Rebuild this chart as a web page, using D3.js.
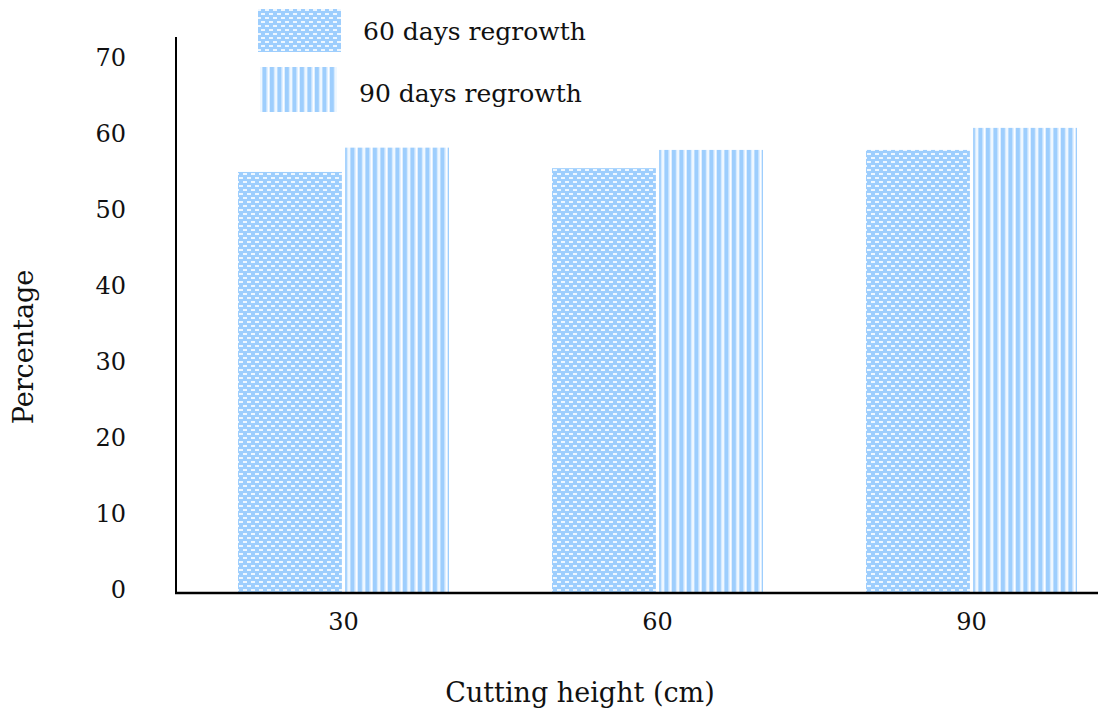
<!DOCTYPE html>
<html>
<head>
<meta charset="utf-8">
<script src="https://cdn.jsdelivr.net/npm/d3@7"></script>
<style>
  html, body { margin: 0; padding: 0; background: #fff; }
  svg { display: block; }
  text { font-family: "DejaVu Serif", "Liberation Serif", serif; fill: #111; }
</style>
</head>
<body>
<svg id="chart" width="1099" height="712"></svg>
<script>
// Cutting height categories (cm)
const categories = ["30", "60", "90"];
// Series names
const seriesNames = ["60 days regrowth", "90 days regrowth"];
// Percentage values per cutting height
const regrowth60 = [55.4, 55.9, 58.3];
const regrowth90 = [58.6, 58.3, 61.2];
// Y axis tick labels
const yTicks = [0, 10, 20, 30, 40, 50, 60, 70];

const svg = d3.select("#chart");

const plotLeft = 176, plotRight = 1098, plotBottom = 593;

const y = d3.scaleLinear().domain([0, 70]).range([plotBottom, 61]);

const x = d3.scaleBand()
  .domain(categories)
  .range([186.5, 1128.5])
  .paddingInner(0.328)
  .paddingOuter(0.164);

const xs = d3.scaleBand()
  .domain(seriesNames)
  .range([0, x.bandwidth()])
  .paddingInner(0.03);

const blue = "#9ecefd";

// Fill patterns
const defs = svg.append("defs");

// dotted brick pattern
const pDot = defs.append("pattern")
  .attr("id", "patDots")
  .attr("patternUnits", "userSpaceOnUse")
  .attr("width", 8).attr("height", 8);
pDot.append("rect").attr("width", 8).attr("height", 8).attr("fill", blue);
pDot.append("rect").attr("x", 1).attr("y", 1).attr("width", 4).attr("height", 2)
  .attr("fill", "#eef7ff");
pDot.append("rect").attr("x", 5).attr("y", 5).attr("width", 4).attr("height", 2)
  .attr("fill", "#eef7ff");
pDot.append("rect").attr("x", -3).attr("y", 5).attr("width", 4).attr("height", 2)
  .attr("fill", "#eef7ff");

// vertical stripe pattern
const pStripe = defs.append("pattern")
  .attr("id", "patStripes")
  .attr("patternUnits", "userSpaceOnUse")
  .attr("width", 7.5).attr("height", 10);
pStripe.append("rect").attr("width", 7.5).attr("height", 10).attr("fill", "#ffffff");
pStripe.append("rect").attr("x", 0).attr("width", 4.2).attr("height", 10).attr("fill", blue);
pStripe.append("rect").attr("x", 4.2).attr("width", 1).attr("height", 10).attr("fill", "#d2e9ff");
pStripe.append("rect").attr("x", 6.8).attr("width", 0.7).attr("height", 10).attr("fill", "#d2e9ff");

const fills = { "60 days regrowth": "url(#patDots)", "90 days regrowth": "url(#patStripes)" };

const rows = categories.map((c, i) => ({
  cat: c,
  values: [
    { key: seriesNames[0], value: regrowth60[i] },
    { key: seriesNames[1], value: regrowth90[i] }
  ]
}));

// Bars
const groups = svg.append("g").selectAll("g")
  .data(rows).join("g")
  .attr("transform", d => `translate(${x(d.cat)},0)`);

groups.selectAll("rect")
  .data(d => d.values).join("rect")
  .attr("x", d => xs(d.key))
  .attr("y", d => y(d.value))
  .attr("width", xs.bandwidth())
  .attr("height", d => y(0) - y(d.value))
  .attr("fill", d => fills[d.key]);

// Y axis line and labels
svg.append("line")
  .attr("x1", plotLeft).attr("x2", plotLeft)
  .attr("y1", y(70) - 24).attr("y2", plotBottom + 1)
  .attr("stroke", "#000").attr("stroke-width", 2);

svg.append("g").selectAll("text")
  .data(yTicks).join("text")
  .attr("x", 126)
  .attr("y", d => y(d) + 5)
  .attr("text-anchor", "end")
  .attr("font-size", 24)
  .text(d => d);

// X axis line and labels
svg.append("line")
  .attr("x1", plotLeft - 1).attr("x2", plotRight)
  .attr("y1", plotBottom).attr("y2", plotBottom)
  .attr("stroke", "#000").attr("stroke-width", 2.5);

svg.append("g").selectAll("text")
  .data(categories).join("text")
  .attr("x", d => x(d) + x.bandwidth() / 2)
  .attr("y", 630)
  .attr("text-anchor", "middle")
  .attr("font-size", 24)
  .text(d => d);

// Axis titles
svg.append("text")
  .attr("x", 580).attr("y", 702)
  .attr("text-anchor", "middle")
  .attr("font-size", 27)
  .text("Cutting height (cm)");

svg.append("text")
  .attr("transform", "translate(33,347) rotate(-90)")
  .attr("text-anchor", "middle")
  .attr("font-size", 27)
  .text("Percentage");

// Legend
const legend = [
  { key: seriesNames[0], x: 258, y: 9, w: 83, h: 43, tx: 363, ty: 40 },
  { key: seriesNames[1], x: 260, y: 67, w: 77, h: 45, tx: 359, ty: 102 }
];
const lg = svg.append("g");
lg.selectAll("rect").data(legend).join("rect")
  .attr("x", d => d.x).attr("y", d => d.y)
  .attr("width", d => d.w).attr("height", d => d.h)
  .attr("fill", d => fills[d.key]);
lg.selectAll("text").data(legend).join("text")
  .attr("x", d => d.tx).attr("y", d => d.ty)
  .attr("font-size", 25)
  .text(d => d.key);
</script>
</body>
</html>
